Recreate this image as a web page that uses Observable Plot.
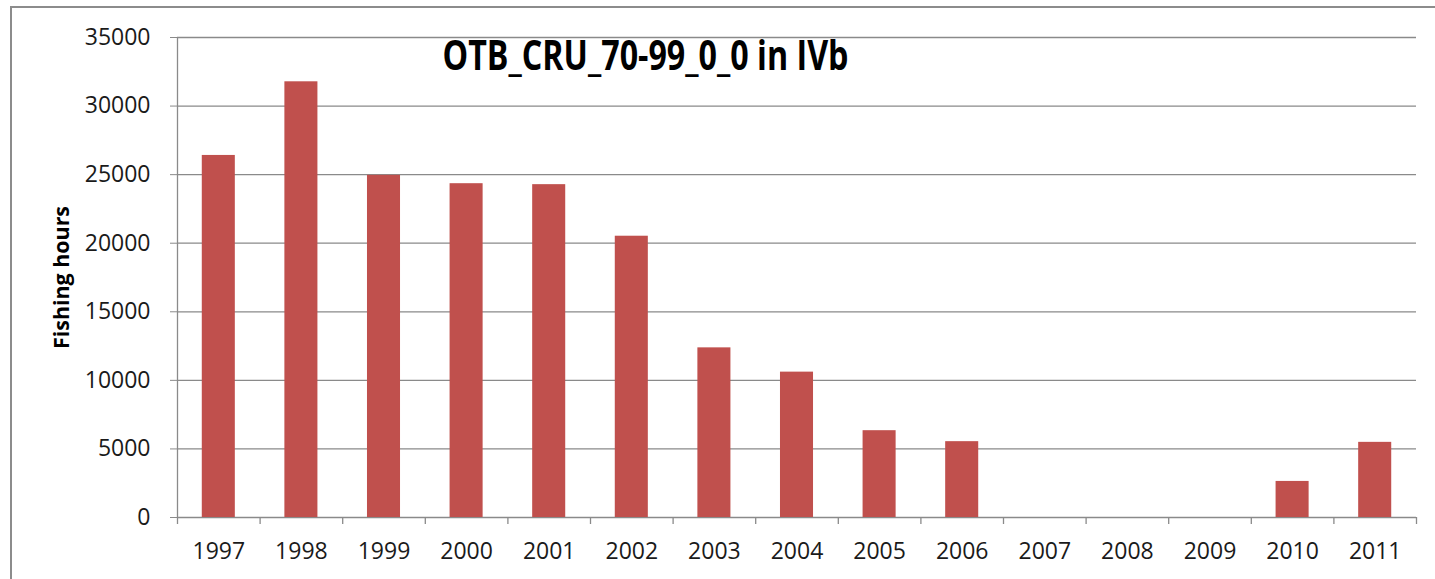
<!DOCTYPE html>
<html>
<head>
<meta charset="utf-8">
<script src="https://cdn.jsdelivr.net/npm/d3@7"></script>
<script src="https://cdn.jsdelivr.net/npm/@observablehq/plot@0.6"></script>
<style>
  html, body { margin: 0; padding: 0; background: #fff; }
  #wrap { position: relative; width: 1435px; height: 579px; overflow: hidden; }
  #frame { position: absolute; left: 10px; top: 6px; width: 1500px; height: 700px;
           border-left: 2px solid #8c8c8c; border-top: 2px solid #8c8c8c; pointer-events: none; }
  svg { position: absolute; left: 0; top: 0; }
</style>
</head>
<body>
<div id="wrap"><div id="frame"></div></div>
<script>
const years = ["1997","1998","1999","2000","2001","2002","2003","2004","2005","2006","2007","2008","2009","2010","2011"];
const hours = [26400, 31770, 24950, 24340, 24270, 20510, 12370, 10600, 6330, 5530, 0, 0, 0, 2630, 5480];
const yTicks = [0, 5000, 10000, 15000, 20000, 25000, 30000, 35000];
const titleText = "OTB_CRU_70-99_0_0 in IVb";
const yLabel = "Fishing hours";

const W = 1435, H = 579;
const mL = 177, mR = 19, mT = 37, mB = 62;
const step = (W - mL - mR) / years.length;
const data = years.map((y, i) => ({year: y, value: hours[i]}));
const font = "'Open Sans', sans-serif";
const grid = "#8a8a8a";

const chart = Plot.plot({
  width: W, height: H,
  marginLeft: mL, marginRight: mR, marginTop: mT, marginBottom: mB,
  style: {fontFamily: font, background: "transparent"},
  x: {domain: years, paddingInner: 0.6, paddingOuter: 0.3, round: false, axis: null},
  y: {domain: [0, 35000], axis: null},
  marks: [
    Plot.ruleY(yTicks, {y: d => d, stroke: grid, strokeWidth: 1.3}),
    Plot.axisY(yTicks, {tickSize: 7, tickPadding: 20, stroke: grid, tickFormat: d => String(d),
      fontSize: 23, fill: "#1a1a1a", label: null}),
    Plot.barY(data, {x: "year", y: "value", fill: "#C0504D"}),
    // category boundary ticks & y-axis line
    Plot.ruleX(years, {x: d => d, dx: -step / 2, y1: -510, y2: (d, i) => i === 0 ? 35000 : 0, stroke: grid, strokeWidth: 1.3}),
    Plot.ruleX([years[years.length - 1]], {x: d => d, dx: step / 2, y1: -510, y2: 0, stroke: grid, strokeWidth: 1.3}),
    Plot.axisX(years, {tickSize: 0, tickPadding: 25, fontSize: 23, fill: "#1a1a1a", label: null}),
    Plot.text([titleText], {frameAnchor: "top-left", dx: 645 - mL, dy: 3, text: d => d,
      fontSize: 42, fontWeight: "bold", fill: "#000", textAnchor: "middle",
      fontFamily: "'Liberation Sans Narrow', 'Open Sans', sans-serif", className: "ttl"}),
    Plot.text([yLabel], {frameAnchor: "left", dx: 62 - mL, text: d => d, rotate: -90, textAnchor: "middle",
      fontSize: 21, fontWeight: "bold", fill: "#000", className: "ylab"})
  ]
});
document.getElementById("wrap").insertBefore(chart, document.getElementById("frame"));
// fit text widths to the reference
const t = chart.querySelector(".ttl text");
if (t) { t.setAttribute("textLength", 406); t.setAttribute("lengthAdjust", "spacingAndGlyphs"); }
const yl = chart.querySelector(".ylab text");
if (yl) { yl.setAttribute("textLength", 143); yl.setAttribute("lengthAdjust", "spacingAndGlyphs"); }
</script>
</body>
</html>
